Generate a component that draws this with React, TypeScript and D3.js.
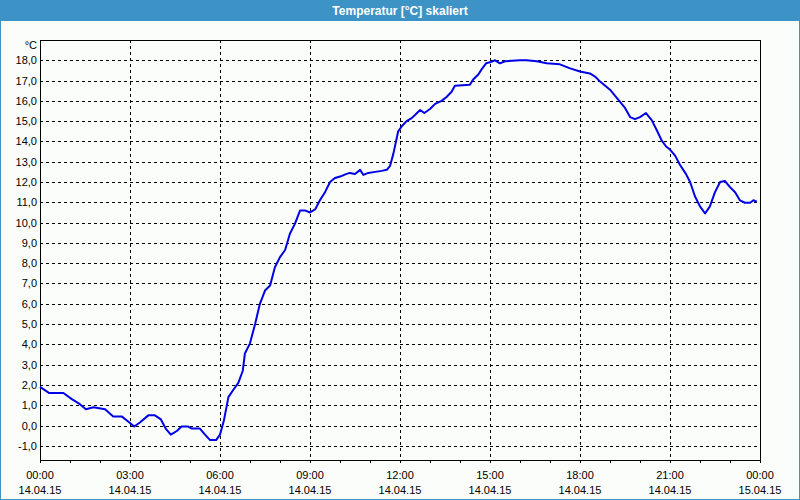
import React from "react";
import * as d3 from "d3";

const hours = [0, 0.31, 0.78, 1.06, 1.33, 1.53, 1.78, 2.17, 2.44, 2.72, 2.94, 3.14, 3.33, 3.61, 3.83, 4.03, 4.19, 4.36, 4.56, 4.72, 4.94, 5.06, 5.33, 5.5, 5.67, 5.87, 6.0, 6.13, 6.28, 6.44, 6.61, 6.76, 6.83, 7.0, 7.17, 7.33, 7.5, 7.67, 7.83, 8.0, 8.17, 8.33, 8.5, 8.67, 8.83, 9.0, 9.17, 9.33, 9.5, 9.67, 9.83, 10.06, 10.22, 10.33, 10.5, 10.67, 10.78, 10.94, 11.17, 11.39, 11.56, 11.67, 11.78, 11.94, 12.06, 12.22, 12.39, 12.5, 12.67, 12.81, 13.0, 13.17, 13.39, 13.56, 13.72, 13.83, 14.33, 14.44, 14.61, 14.72, 14.87, 15.0, 15.17, 15.33, 15.5, 16.0, 16.22, 16.56, 16.89, 17.33, 17.67, 18.0, 18.33, 18.5, 18.67, 19.0, 19.28, 19.5, 19.67, 19.83, 20.0, 20.2, 20.39, 20.56, 20.72, 20.87, 21.0, 21.17, 21.33, 21.53, 21.67, 21.83, 22.0, 22.17, 22.33, 22.5, 22.67, 22.83, 23.0, 23.17, 23.33, 23.5, 23.67, 23.78, 23.89];

const temps = [1.9, 1.6, 1.6, 1.3, 1.05, 0.8, 0.9, 0.8, 0.45, 0.45, 0.2, -0.05, 0.15, 0.5, 0.5, 0.3, -0.15, -0.45, -0.27, -0.05, -0.05, -0.15, -0.15, -0.45, -0.72, -0.72, -0.45, 0.25, 1.4, 1.75, 2.1, 2.7, 3.55, 4.05, 5.0, 6.0, 6.65, 6.9, 7.8, 8.3, 8.65, 9.45, 9.95, 10.6, 10.6, 10.5, 10.65, 11.1, 11.5, 12.0, 12.2, 12.3, 12.4, 12.45, 12.4, 12.6, 12.35, 12.45, 12.5, 12.55, 12.6, 12.8, 13.4, 14.5, 14.75, 15.0, 15.15, 15.3, 15.55, 15.4, 15.6, 15.85, 16.0, 16.2, 16.45, 16.75, 16.8, 17.05, 17.3, 17.55, 17.85, 17.9, 18.0, 17.85, 17.95, 18.0, 18.0, 17.95, 17.85, 17.8, 17.6, 17.45, 17.35, 17.2, 16.95, 16.55, 16.05, 15.65, 15.2, 15.1, 15.2, 15.4, 15.05, 14.55, 14.05, 13.75, 13.6, 13.3, 12.85, 12.4, 12.0, 11.3, 10.8, 10.45, 10.8, 11.5, 12.0, 12.05, 11.75, 11.5, 11.1, 10.98, 10.98, 11.1, 11.03];

const yTicks = [-1, 0, 1, 2, 3, 4, 5, 6, 7, 8, 9, 10, 11, 12, 13, 14, 15, 16, 17, 18];
const xTickHours = [0, 3, 6, 9, 12, 15, 18, 21, 24];
const xTimeLabels = ["00:00", "03:00", "06:00", "09:00", "12:00", "15:00", "18:00", "21:00", "00:00"];
const xDateLabels = ["14.04.15", "14.04.15", "14.04.15", "14.04.15", "14.04.15", "14.04.15", "14.04.15", "14.04.15", "15.04.15"];
const minorHours = d3.range(0, 25, 1);

const title = "Temperatur [°C] skaliert";
const unit = "°C";

export default function App() {
  const W = 800, H = 500;
  const left = 40, right = 760, top = 40, bottom = 460;
  const x = d3.scaleLinear().domain([0, 24]).range([left, right]);
  const y = d3.scaleLinear().domain([-1.7, 19]).range([bottom, top]);
  const line = d3
    .line<number>()
    .x((_, i) => x(hours[i]))
    .y((d) => y(d));
  const fmt = (v: number) => v.toFixed(1).replace(".", ",");
  const font = "'Liberation Sans', Arial, sans-serif";
  const px = (v: number) => Math.round(v) + 0.5;

  return (
    <div style={{ position: "fixed", left: 0, top: 0, width: W, height: H }}>
      <svg width={W} height={H} style={{ display: "block" }}>
        <rect x={0} y={0} width={W} height={H} fill="#fbfdfb" />
        <rect x={0.5} y={0.5} width={W - 1} height={H - 1} fill="none" stroke="#3d93c5" />
        <rect x={0} y={0} width={W} height={21} fill="#3d93c5" />
        <text
          x={W / 2}
          y={11}
          textAnchor="middle"
          dominantBaseline="central"
          fill="#ffffff"
          fontFamily={font}
          fontWeight="bold"
          fontSize={12}
        >
          {title}
        </text>

        {/* horizontal grid */}
        <g shapeRendering="crispEdges">
          {yTicks.map((t) => (
            <line
              key={"h" + t}
              x1={left}
              x2={right}
              y1={px(y(t))}
              y2={px(y(t))}
              stroke="#000"
              strokeDasharray="3,3"
            />
          ))}
          {xTickHours.slice(1, -1).map((t) => (
            <line
              key={"v" + t}
              x1={px(x(t))}
              x2={px(x(t))}
              y1={top}
              y2={bottom}
              stroke="#000"
              strokeDasharray="3,3"
            />
          ))}
          {minorHours.map((t) => (
            <line
              key={"m" + t}
              x1={px(x(t))}
              x2={px(x(t))}
              y1={bottom}
              y2={bottom + 3}
              stroke="#000"
            />
          ))}
          <rect
            x={left + 0.5}
            y={top + 0.5}
            width={right - left}
            height={bottom - top}
            fill="none"
            stroke="#000"
          />
        </g>

        <path d={line(temps) || ""} fill="none" stroke="#0000e6" strokeWidth={2} strokeLinejoin="round" />

        {yTicks.map((t) => (
          <text
            key={"yl" + t}
            x={37}
            y={y(t)}
            textAnchor="end"
            dominantBaseline="central"
            fontFamily={font}
            fontSize={11}
            fill="#000"
          >
            {fmt(t)}
          </text>
        ))}
        <text x={37} y={45} textAnchor="end" dominantBaseline="central" fontFamily={font} fontSize={11} fill="#000">
          {unit}
        </text>

        {xTickHours.map((t, i) => (
          <g key={"xl" + i}>
            <text
              x={x(t)}
              y={475}
              textAnchor="middle"
              dominantBaseline="central"
              fontFamily={font}
              fontSize={11}
              fill="#000"
            >
              {xTimeLabels[i]}
            </text>
            <text
              x={x(t)}
              y={490}
              textAnchor="middle"
              dominantBaseline="central"
              fontFamily={font}
              fontSize={11}
              fill="#000"
            >
              {xDateLabels[i]}
            </text>
          </g>
        ))}
      </svg>
    </div>
  );
}
